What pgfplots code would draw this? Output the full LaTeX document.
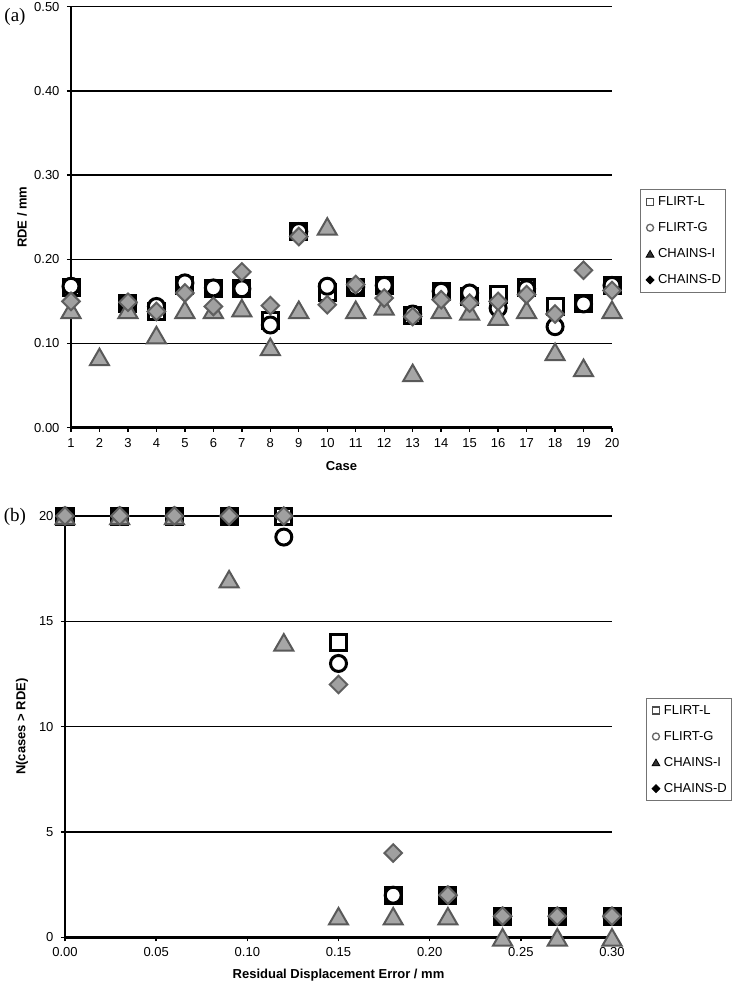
\documentclass[border=0pt]{standalone}
\usepackage{fontspec}
\setmainfont{Liberation Sans}
\newfontfamily\serifr{Liberation Serif}
\usepackage{pgfplots}
\usepackage{pgfplotstable}
\pgfplotsset{compat=1.18}
\definecolor{triF}{HTML}{A6A6A6}
\definecolor{triE}{HTML}{595959}
\definecolor{diaF}{HTML}{A0A0A0}
\definecolor{diaE}{HTML}{5F5F5F}

\pgfplotstableread{
case L G I D
1 0.167 0.168 0.140 0.150
2 nan nan 0.084 nan
3 0.147 0.148 0.140 0.149
4 0.138 0.144 0.110 0.138
5 0.169 0.172 0.140 0.160
6 0.165 0.166 0.140 0.144
7 0.165 0.165 0.142 0.185
8 0.127 0.122 0.096 0.145
9 0.233 0.233 0.140 0.227
10 0.160 0.168 0.239 0.146
11 0.167 0.167 0.140 0.170
12 0.169 0.169 0.144 0.154
13 0.133 0.135 0.065 0.132
14 0.162 0.162 0.140 0.152
15 0.156 0.160 0.138 0.148
16 0.158 0.142 0.132 0.150
17 0.166 0.165 0.140 0.158
18 0.144 0.120 0.090 0.135
19 0.147 0.147 0.071 0.187
20 0.169 0.169 0.140 0.163
}\toptable

\pgfplotstableread{
x L G I D
0.00 20 20 20 20
0.03 20 20 20 20
0.06 20 20 20 20
0.09 20 20 17 20
0.12 20 19 14 20
0.15 14 13 1 12
0.18 2 2 1 4
0.21 2 2 1 2
0.24 1 1 0 1
0.27 1 1 0 1
0.30 1 1 0 1
}\bottable

\pgfplotsset{
  common/.style={
    scale only axis, clip=false,
    axis lines=left,
    axis line style={-, black, line width=2.6pt},
    ymajorgrids, major grid style={black, line width=1.4pt},
    tick align=outside, major tick length=4pt,
    tick style={black, line width=1.4pt},
    /pgf/number format/assume math mode=true,
    tick label style={font=\fontsize{13}{15}\selectfont},
    xticklabel style={yshift=-3pt},
    yticklabel style={xshift=-4pt},
    label style={font=\bfseries\fontsize{13}{15}\selectfont},
    legend cell align=left,
    legend style={anchor=north west, draw=black!55, line width=1.1pt,
      font=\fontsize{13}{15}\selectfont, row sep=11.5pt, inner xsep=3pt, inner ysep=5pt,
      nodes={inner xsep=1.5pt}},
  },
  sL/.style={only marks, mark=square*, mark size=8pt, line width=3pt, draw=black, fill=white,
    legend image code/.code={\path (0pt,0pt) (10pt,0pt); \draw[##1, mark size=3.5pt, line width=1.3pt, draw=black!70] plot coordinates {(5pt,0pt)};}},
  sG/.style={only marks, mark=*, mark size=8pt, line width=3pt, draw=black, fill=white,
    legend image code/.code={\path (0pt,0pt) (10pt,0pt); \draw[##1, mark size=3.5pt, line width=1.3pt, draw=black!60] plot coordinates {(5pt,0pt)};}},
  sI/.style={only marks, mark=triangle*, mark size=11pt, line width=2pt, draw=triE, fill=triF,
    mark options={yshift=-2.7pt},
    legend image code/.code={\path (0pt,0pt) (10pt,0pt); \draw[##1, mark size=4.5pt, line width=0.8pt, draw=black, fill=black!80, mark options={yshift=-1pt}] plot coordinates {(5pt,0pt)};}},
  sD/.style={only marks, mark=square*, mark size=6.2pt, line width=2pt, draw=diaE, fill=diaF,
    mark options={rotate=45},
    legend image code/.code={\path (0pt,0pt) (10pt,0pt); \draw[##1, mark size=2.8pt, line width=0.8pt, draw=black, fill=black] plot coordinates {(5pt,0pt)};}},
}

\begin{document}
\begin{tikzpicture}
\useasboundingbox (0pt,0pt) rectangle (736pt,-984pt);
\node[font=\serifr\fontsize{19}{22}\selectfont] at (15pt,-17pt) {(a)};
\node[font=\serifr\fontsize{19}{22}\selectfont] at (15pt,-517pt) {(b)};

\begin{axis}[common,
  at={(71pt,-427.7pt)}, anchor=south west,
  width=541pt, height=421pt,
  xmin=1, xmax=20, ymin=0, ymax=0.5,
  xtick={1,...,20},
  ytick={0,0.1,0.2,0.3,0.4,0.5},
  yticklabel style={/pgf/number format/.cd, fixed, fixed zerofill, precision=2},
  xlabel={Case}, ylabel={RDE / mm},
  xlabel style={at={(axis description cs:0.5,-0.091)}, anchor=center},
  ylabel style={at={(axis description cs:-0.0906,0.5)}, anchor=center},
  legend style={at={(1.0518,0.567)}},
]
\addplot[sL] table[x=case, y=L] {\toptable};
\addlegendentry{FLIRT-L}
\addplot[sG] table[x=case, y=G] {\toptable};
\addlegendentry{FLIRT-G}
\addplot[sI] table[x=case, y=I] {\toptable};
\addlegendentry{CHAINS-I}
\addplot[sD] table[x=case, y=D] {\toptable};
\addlegendentry{CHAINS-D}
\end{axis}

\begin{axis}[common,
  at={(65pt,-937.3pt)}, anchor=south west,
  width=547pt, height=421.3pt,
  xmin=0, xmax=0.3, ymin=0, ymax=20,
  xtick={0,0.05,0.1,0.15,0.2,0.25,0.3},
  ytick={0,5,10,15,20},
  xticklabel style={/pgf/number format/.cd, fixed, fixed zerofill, precision=2},
  xlabel={Residual Displacement Error / mm}, ylabel={N(cases > RDE)},
  xlabel style={at={(axis description cs:0.5,-0.0895)}, anchor=center},
  ylabel style={at={(axis description cs:-0.0786,0.5)}, anchor=center},
  legend style={at={(1.062,0.5687)}},
]
\addplot[sL] table[x=x, y=L] {\bottable};
\addlegendentry{FLIRT-L}
\addplot[sG] table[x=x, y=G] {\bottable};
\addlegendentry{FLIRT-G}
\addplot[sI] table[x=x, y=I] {\bottable};
\addlegendentry{CHAINS-I}
\addplot[sD] table[x=x, y=D] {\bottable};
\addlegendentry{CHAINS-D}
\end{axis}
\end{tikzpicture}
\end{document}
